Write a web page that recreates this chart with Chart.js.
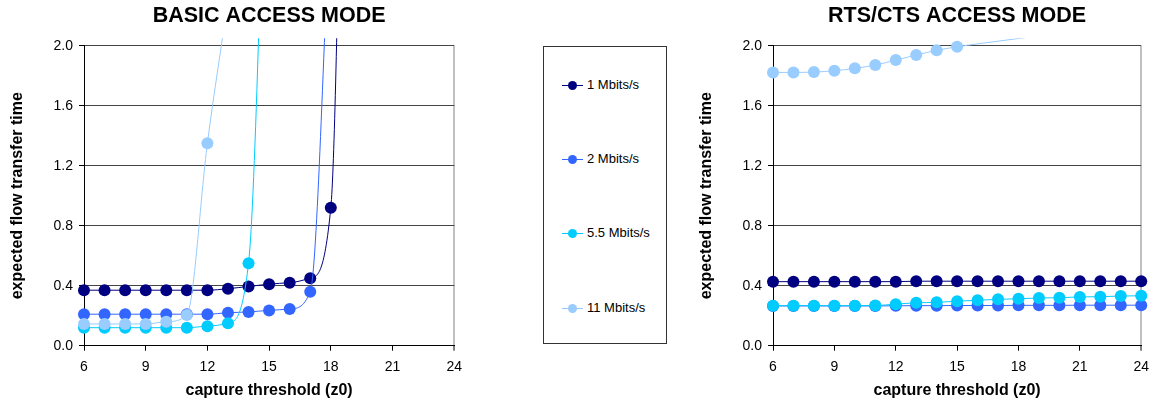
<!DOCTYPE html>
<html><head><meta charset="utf-8">
<script src="https://cdn.jsdelivr.net/npm/chart.js@4/dist/chart.umd.min.js"></script>
<style>
html,body{margin:0;padding:0;background:#fff;overflow:hidden;width:1157px;height:400px;}
canvas{position:absolute;top:0;}
#cLeft{left:0;}
#cRight{left:689px;}
#legend{position:absolute;left:543px;top:46px;width:122px;height:296px;border:1px solid #333;font-family:"Liberation Sans",Arial,sans-serif;font-size:13px;color:#000;}
.item{position:absolute;left:18px;height:14px;width:100px;}
.item .ln{position:absolute;left:0;top:7px;width:21px;height:1px;}
.item .dot{position:absolute;left:6px;top:3px;width:9px;height:9px;border-radius:50%;}
.item .tx{position:absolute;left:25px;top:-1px;white-space:nowrap;line-height:16px;}
</style>
</head><body>
<canvas id="cLeft" width="470" height="400"></canvas>
<canvas id="cRight" width="468" height="400"></canvas>
<div id="legend"></div>
<script>
// ---- data ----
const xValues = [6,7,8,9,10,11,12,13,14,15,16,17,18,19,20,21,22,23,24];
const xTicks = [6,9,12,15,18,21,24];
const yTicks = [0,0.4,0.8,1.2,1.6,2.0];
const seriesNames = ['1 Mbits/s','2 Mbits/s','5.5 Mbits/s','11 Mbits/s'];
const seriesColors = ['#000080','#3366FF','#00CCFF','#99CCFF'];

// BASIC ACCESS MODE (values from x=6 upward)
const basic1  = [0.37,0.37,0.37,0.37,0.37,0.37,0.37,0.38,0.395,0.41,0.42,0.45,0.92,7.5];
const basic2  = [0.21,0.21,0.21,0.21,0.21,0.21,0.21,0.22,0.225,0.235,0.245,0.36,3.0];
const basic55 = [0.12,0.12,0.12,0.12,0.12,0.12,0.13,0.15,0.55,4.3];
const basic11 = [0.145,0.145,0.145,0.145,0.16,0.205,1.35,2.3];

// RTS/CTS ACCESS MODE
const rts1  = [0.427,0.427,0.427,0.427,0.427,0.427,0.427,0.43,0.43,0.43,0.43,0.43,0.43,0.43,0.43,0.43,0.43,0.43,0.43];
const rts2  = [0.265,0.265,0.265,0.265,0.265,0.265,0.266,0.267,0.267,0.268,0.268,0.268,0.269,0.269,0.269,0.27,0.27,0.27,0.27];
const rts55 = [0.267,0.267,0.267,0.267,0.267,0.268,0.277,0.286,0.289,0.297,0.303,0.309,0.313,0.318,0.32,0.325,0.327,0.331,0.333];
const rts11 = [1.822,1.822,1.824,1.833,1.849,1.871,1.904,1.938,1.969,1.993,2.012,2.03,2.048,2.066,2.084,2.1,2.12,2.14,2.16];

const FONT = '"Liberation Sans", Arial, sans-serif';
const Y_MAX = 2.0;

function makeDatasets(arrays){
  return arrays.map((arr, i) => ({
    label: seriesNames[i],
    data: arr.map((y, k) => ({x: xValues[k], y: y})),
    borderColor: seriesColors[i],
    backgroundColor: seriesColors[i],
    pointBackgroundColor: seriesColors[i],
    pointBorderWidth: 0,
    pointRadius: c => (c.raw && c.raw.y > Y_MAX) ? 0 : 6,
    pointHoverRadius: c => (c.raw && c.raw.y > Y_MAX) ? 0 : 6,
    borderWidth: 1,
    cubicInterpolationMode: 'monotone',
    order: arrays.length - i,
    clip: {left: 10, right: 10, top: 7.5, bottom: 10}
  }));
}

function makeChart(id, title, arrays, rightPad){
  return new Chart(document.getElementById(id), {
    type: 'line',
    data: { datasets: makeDatasets(arrays) },
    options: {
      responsive: false,
      animation: false,
      events: [],
      layout: { padding: {left: 0, right: rightPad, top: 0, bottom: 0} },
      plugins: {
        legend: { display: false },
        tooltip: { enabled: false },
        title: {
          display: true, text: title, fullSize: false, color: '#000',
          font: {family: FONT, size: 21.5, weight: 'bold'},
          padding: {top: 3.1, bottom: 16.8}
        }
      },
      scales: {
        x: {
          type: 'linear', min: 6, max: 24,
          afterBuildTicks: s => { s.ticks = xTicks.map(v => ({value: v})); },
          afterFit: s => { s.height = 54.3; },
          ticks: { color: '#000', font: {family: FONT, size: 14}, padding: 8, maxRotation: 0, autoSkip: false,
                   callback: v => String(v) },
          grid: {
            drawOnChartArea: true, drawTicks: true, tickLength: 5,
            color: c => (c.tick && c.tick.value === 24) ? '#c0c0c0' : 'rgba(0,0,0,0)',
            lineWidth: c => (c.tick && c.tick.value === 24) ? 2 : 1,
            tickColor: '#000', tickWidth: 1
          },
          border: { display: true, color: '#000', width: 1 },
          title: { display: true, text: 'capture threshold (z0)', color: '#000',
                   font: {family: FONT, size: 16, weight: 'bold'}, padding: {top: 0, bottom: 0} }
        },
        y: {
          type: 'linear', min: 0, max: Y_MAX,
          afterBuildTicks: s => { s.ticks = yTicks.map(v => ({value: v})); },
          afterFit: s => { s.width = 84; },
          ticks: { color: '#000', font: {family: FONT, size: 14}, padding: 6,
                   callback: v => Number(v).toFixed(1) },
          grid: { color: '#444', lineWidth: 1, drawTicks: true, tickLength: 5, tickColor: '#000' },
          border: { display: true, color: '#000', width: 1 },
          title: { display: true, text: 'expected flow transfer time', color: '#000',
                   font: {family: FONT, size: 16, weight: 'bold'}, padding: {top: 8.4, bottom: 0} }
        }
      }
    }
  });
}

makeChart('cLeft', 'BASIC ACCESS MODE', [basic1, basic2, basic55, basic11], 13);
makeChart('cRight', 'RTS/CTS ACCESS MODE', [rts1, rts2, rts55, rts11], 11);

// ---- legend ----
const legendY = [37.5, 112, 186, 261];
const lg = document.getElementById('legend');
seriesNames.forEach((name, i) => {
  const d = document.createElement('div');
  d.className = 'item';
  d.style.top = (legendY[i] - 7) + 'px';
  d.innerHTML = '<div class="ln" style="background:' + seriesColors[i] + '"></div>' +
    '<div class="dot" style="background:' + seriesColors[i] + '"></div>' +
    '<div class="tx">' + name + '</div>';
  lg.appendChild(d);
});
</script>
</body></html>
